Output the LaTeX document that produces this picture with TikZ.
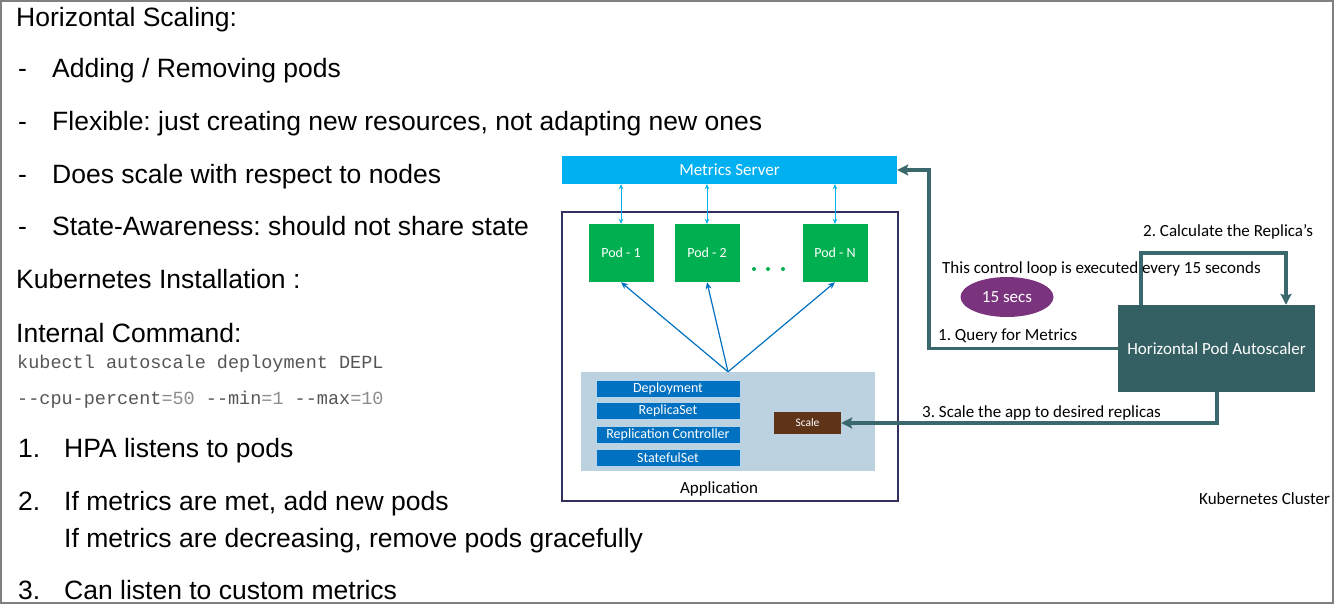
\documentclass[tikz,border=0pt]{standalone}
\usepackage{fontspec}
\setmainfont{Liberation Sans}
\setmonofont{Liberation Mono}
\newfontfamily\calfont{Carlito}
\usetikzlibrary{arrows.meta,shapes.geometric}
\definecolor{msblue}{RGB}{0,176,240}
\definecolor{podgreen}{RGB}{0,176,80}
\definecolor{dkblue}{RGB}{0,112,192}
\definecolor{appline}{RGB}{50,48,95}
\definecolor{innerbg}{RGB}{189,210,225}
\definecolor{scalebrown}{RGB}{94,51,23}
\definecolor{hpateal}{RGB}{52,95,99}
\definecolor{loopteal}{RGB}{58,104,108}
\definecolor{secpurple}{RGB}{122,52,126}
\definecolor{codegray}{RGB}{85,85,85}
\definecolor{codelight}{RGB}{140,140,140}
\definecolor{framegray}{RGB}{128,128,128}
\tikzset{
  bigtxt/.style={anchor=base west, inner sep=0pt, font=\fontsize{26.5}{30}\selectfont},
  codetxt/.style={anchor=base west, inner sep=0pt, text=codegray, font=\fontsize{18.5}{22}\selectfont\ttfamily},
  lbl/.style={anchor=base west, inner sep=0pt, font=\calfont\fontsize{17}{20}\selectfont},
  boxn/.style={rectangle, inner sep=0pt, text=white},
  podbox/.style={boxn, fill=podgreen, minimum width=65pt, minimum height=58pt, font=\calfont\fontsize{14}{16}\selectfont},
  ctrlbox/.style={boxn, fill=dkblue, draw=white!70!dkblue, line width=0.6pt, minimum width=144pt, minimum height=17pt, font=\calfont\fontsize{14}{16}\selectfont},
  msarrow/.style={draw=msblue, line width=0.9pt, {Stealth[length=5pt,width=4.5pt]}-{Stealth[length=5pt,width=4.5pt]}},
  podarrow/.style={draw=dkblue, line width=1.2pt, -{Stealth[length=7pt,width=6pt]}},
  looparrow/.style={draw=loopteal, line width=3.2pt, -{Stealth[length=11pt,width=11pt,inset=2pt]}},
}
\frenchspacing
\begin{document}
\begin{tikzpicture}[x=1pt,y=-1pt]
\useasboundingbox (0,0) rectangle (1334,604);
\draw[framegray, line width=2pt] (1,1) rectangle (1333,603);

% left text
\node[bigtxt] (t0) at (16,27) {Horizontal Scaling:};
\node[bigtxt] (d1) at (18,78) {-};
\node[bigtxt] (t1) at (52,78) {Adding / Removing pods};
\node[bigtxt] (d2) at (18,131) {-};
\node[bigtxt] (t2) at (52,131) {Flexible: just creating new resources, not adapting new ones};
\node[bigtxt] (d3) at (18,184) {-};
\node[bigtxt] (t3) at (52,184) {Does scale with respect to nodes};
\node[bigtxt] (d4) at (18,236) {-};
\node[bigtxt] (t4) at (52,236) {State-Awareness: should not share state};
\node[bigtxt] (t5) at (16,289) {Kubernetes Installation :};
\node[bigtxt] (t6) at (16,342) {Internal Command:};
\node[codetxt] (c1) at (17,368) {kubectl autoscale deployment DEPL};
\node[codetxt] (c2) at (17,404) {--cpu-percent\textcolor{codelight}{=50} --min\textcolor{codelight}{=1} --max\textcolor{codelight}{=10}};
\node[bigtxt] (n1) at (18,457) {1.};
\node[bigtxt] (i1) at (64,457) {HPA listens to pods};
\node[bigtxt] (n2) at (18,510) {2.};
\node[bigtxt] (i2) at (64,510) {If metrics are met, add new pods};
\node[bigtxt] (i2b) at (64,547) {If metrics are decreasing, remove pods gracefully};
\node[bigtxt] (n3) at (18,599) {3.};
\node[bigtxt] (i3) at (64,599) {Can listen to custom metrics};

% diagram
\node[boxn, fill=msblue, minimum width=335pt, minimum height=28pt, font=\calfont\fontsize{17}{20}\selectfont] (metrics) at (729.5,170) {Metrics Server};
\node[rectangle, draw=appline, line width=1.5pt, minimum width=336pt, minimum height=289pt, inner sep=0pt] (app) at (730,356.5) {};
\node[rectangle, fill=innerbg, minimum width=294pt, minimum height=99pt, inner sep=0pt] (inner) at (728,421.5) {};
\node[podbox] (pod1) at (621,253) {Pod - 1};
\node[podbox] (pod2) at (707,253) {Pod - 2};
\node[podbox] (podn) at (835,253) {Pod - N};
\fill[podgreen] (754,269) circle (2pt) (768,269) circle (2pt) (783,269) circle (2pt);

\node[ctrlbox] (dep) at (668,388.5) {Deployment};
\node[ctrlbox] (rs) at (668,410.5) {ReplicaSet};
\node[ctrlbox] (rc) at (668,434.5) {Replication Controller};
\node[ctrlbox] (ss) at (668,457.5) {StatefulSet};
\node[boxn, fill=scalebrown, minimum width=67pt, minimum height=22pt, font=\calfont\fontsize{11.5}{13}\selectfont] (scale) at (807.5,423) {Scale};
\node[anchor=base, inner sep=0pt, font=\calfont\fontsize{17}{20}\selectfont] (applbl) at (719,493) {Application};

\draw[msarrow] (pod1.north) -- (pod1.north |- metrics.south);
\draw[msarrow] (pod2.north) -- (pod2.north |- metrics.south);
\draw[msarrow] (podn.north) -- (podn.north |- metrics.south);

\draw[podarrow] (inner.north) -- (pod1.south);
\draw[podarrow] (inner.north) -- (pod2.south);
\draw[podarrow] (inner.north) -- (podn.south);

\node[boxn, fill=hpateal, minimum width=197pt, minimum height=87pt, font=\calfont\fontsize{17}{20}\selectfont] (hpa) at (1216.5,348.5) {Horizontal Pod Autoscaler};
\node[ellipse, fill=secpurple, text=white, minimum width=93pt, minimum height=40pt, inner sep=0pt, font=\calfont\fontsize{17}{20}\selectfont] (secs) at (1007,297) {15 secs};

\coordinate (q1) at (929,170);
\coordinate (k1) at (1141,253);
\coordinate (k2) at (1286,253);
\coordinate (s1) at (1217,423);
\draw[looparrow] (hpa.west) -| (q1) -- (metrics.east);
\draw[looparrow] (hpa.north -| k1) -- (k1) -- (k2) -- (hpa.north -| k2);
\draw[looparrow] (hpa.south -| s1) -- (s1) -- (scale.east);

\node[lbl] (l1) at (938,341) {1. Query for Metrics};
\node[lbl] (l2) at (1143,237) {2. Calculate the Replica’s};
\node[lbl] (l3) at (942,273) {This control loop is executed every 15 seconds};
\node[lbl] (l4) at (922,417) {3. Scale the app to desired replicas};
\node[lbl] (l5) at (1199,504) {Kubernetes Cluster};
\end{tikzpicture}
\end{document}
